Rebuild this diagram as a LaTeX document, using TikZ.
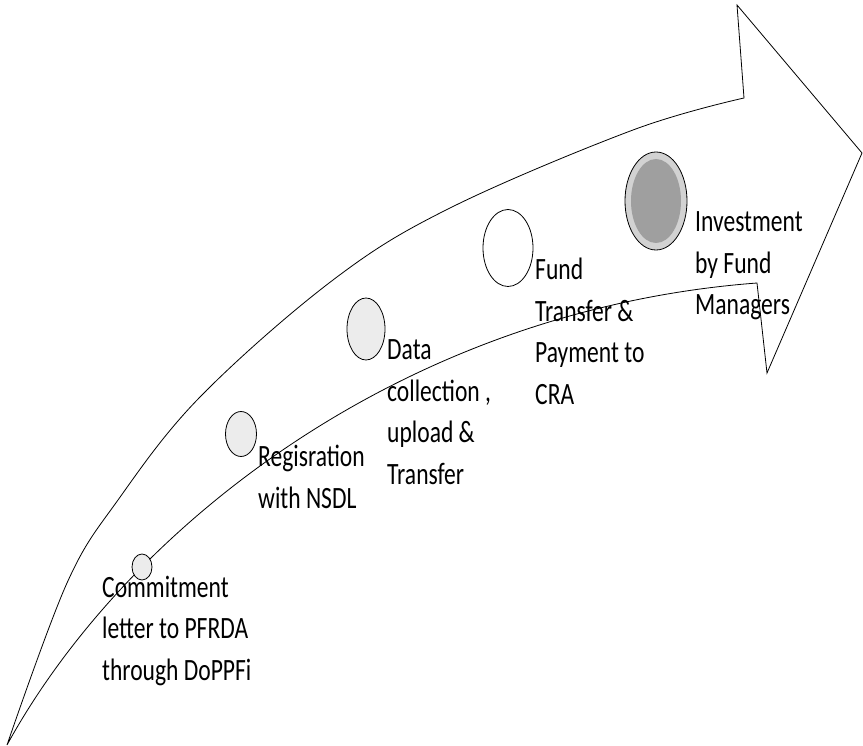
\documentclass[tikz,border=0pt]{standalone}
\usepackage{fontspec}
\usetikzlibrary{shapes.geometric}
\newfontfamily\calib{Carlito}[FakeStretch=0.76]

\tikzstyle{stagedot} = [draw=black, thick, ellipse, inner sep=0pt,
  fill=gray!15]
\tikzstyle{stagetext} = [anchor=base west, align=left, inner sep=0pt,
  font=\calib\fontsize{31}{41.5}\selectfont]

\begin{document}
\begin{tikzpicture}[x=1pt, y=-1pt]
        \useasboundingbox (0,0) rectangle (863,746);

        % the big bent arrow
        \draw[thick, line join=miter]
          plot[smooth, tension=0.6] coordinates {(7,745) (67,583) (118,500)
            (200,397) (333,280) (450,208) (633,130) (744,98)}
          -- (737,5) -- (862,153) -- (767,373) -- (757,283)
          .. controls (400,310) and (125,530) .. (7,745) -- cycle;

        \node [stagedot, minimum width=20pt, minimum height=26pt] (dot1) at (142,567) {};
        \node [stagedot, minimum width=31pt, minimum height=45pt] (dot2) at (241,434) {};
        \node [stagedot, minimum width=38pt, minimum height=62pt] (dot3) at (366,329) {};
        \node [stagedot, minimum width=50pt, minimum height=77pt, fill=white] (dot4) at (508,248) {};
        \node [stagedot, minimum width=62pt, minimum height=98pt, fill=gray!35] (dot5) at (656,201) {};
        \node [ellipse, fill=gray!75, minimum width=50pt, minimum height=84pt] (core5) at (dot5) {};

        % base anchor sits on the last line
        \node [stagetext] (txt1) at (102,680) {Commitment\\letter to PFRDA\\through DoPPFi};
        \node [stagetext] (txt2) at (258,508) {Regisration\\with NSDL};
        \node [stagetext] (txt3) at (387,484) {Data\\collection ,\\upload \&\\Transfer};
        \node [stagetext] (txt4) at (535,404) {Fund\\Transfer \&\\Payment to\\CRA};
        \node [stagetext] (txt5) at (695,315) {Investment\\by Fund\\Managers};
      \end{tikzpicture}
\end{document}
